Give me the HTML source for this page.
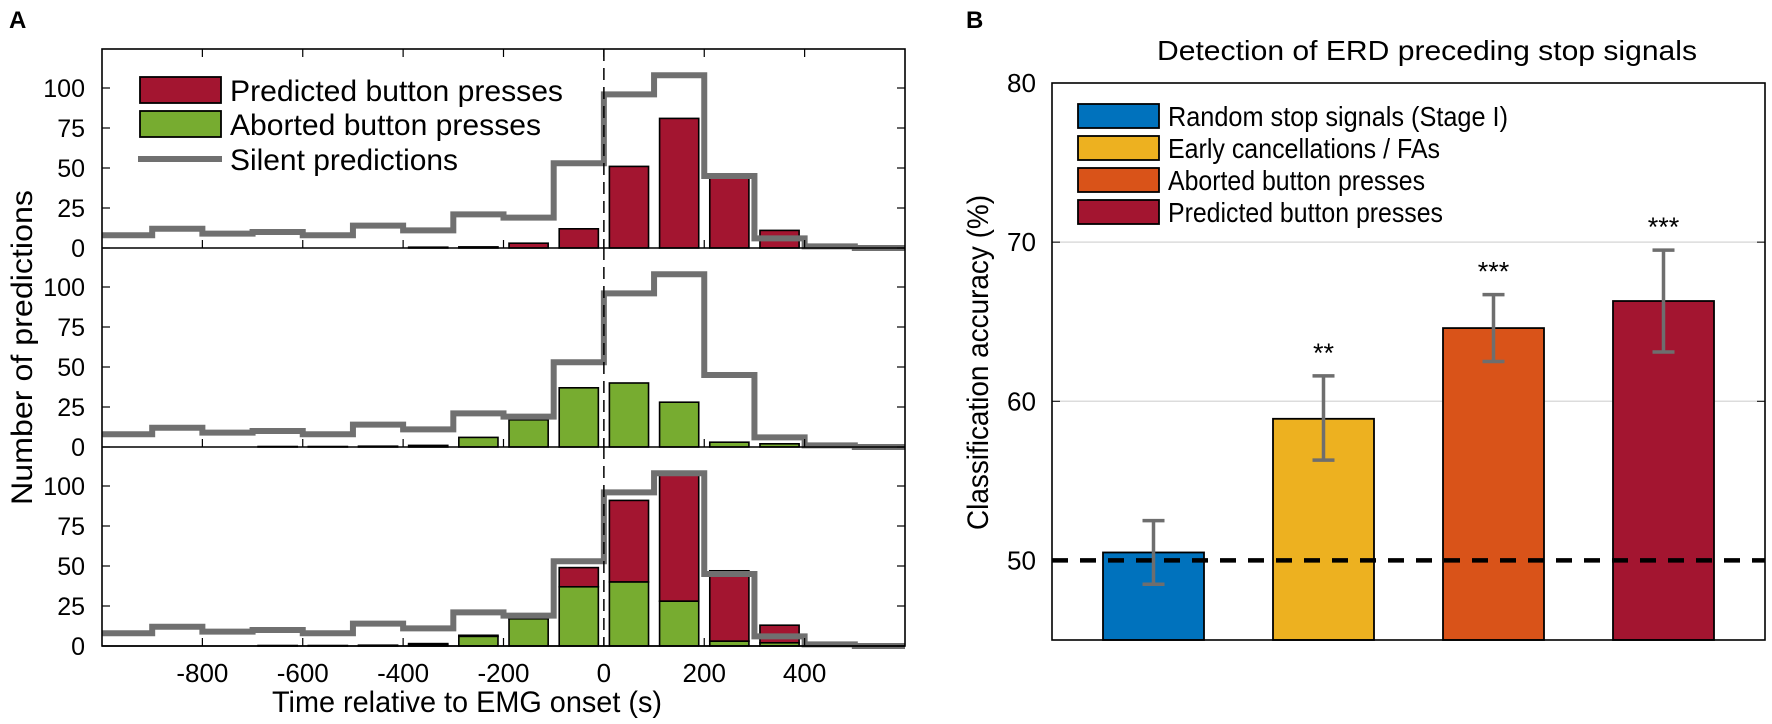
<!DOCTYPE html>
<html><head><meta charset="utf-8">
<style>
html,body{margin:0;padding:0;background:#fff;}
svg{display:block;font-family:"Liberation Sans",Arial,sans-serif;}
</style></head>
<body>
<svg id="fig" width="1772" height="724" viewBox="0 0 1772 724" xmlns="http://www.w3.org/2000/svg">
<text x="9" y="28" font-size="24" font-weight="bold">A</text>
<text x="966" y="28" font-size="24" font-weight="bold">B</text>
<g id="left"></g>
<g id="right"></g>
</svg>
<script>
// ---------- Panel A data ----------
const binStarts = [-1000,-900,-800,-700,-600,-500,-400,-300,-200,-100,0,100,200,300,400,500];
const silentCounts = [8,12,9,10,8,14,11,21,19,53,96,108,45,6,1,0];
const predictedCounts = [0,0,0,0,0,0,0.5,0.7,3,12,51,81,44,11,2,1];
const abortedCounts = [0,0,0,0.3,0.3,0.5,1,6,17,37,40,28,3,2,0,0];
const histTicksX = [-800,-600,-400,-200,0,200,400];
const histTicksY = [0,25,50,75,100];
// ---------- Panel B data ----------
const accCategories = ["Random stop signals (Stage I)","Early cancellations / FAs","Aborted button presses","Predicted button presses"];
const accValues = [50.5,58.9,64.6,66.3];
const accErrLow = [48.5,56.3,62.5,63.1];
const accErrHigh = [52.5,61.6,66.7,69.5];
const accStars = ["","**","***","***"];
const accTicksY = [50,60,70,80];

const NS="http://www.w3.org/2000/svg";
function mk(parent,tag,attrs,text){const e=document.createElementNS(NS,tag);for(const k in attrs)e.setAttribute(k,attrs[k]);if(text!==undefined)e.textContent=text;parent.appendChild(e);return e;}
function cond(attrs,len){attrs.textLength=len;attrs.lengthAdjust='spacingAndGlyphs';return attrs;}

const L=document.getElementById('left');
const X0=102,X1=905,T0=-1000,T1=600;
const xs=t=>X0+(t-T0)*(X1-X0)/(T1-T0);
const RED="#a31530",GREEN="#77ac30",GRAY="#707070";
const panels=[{base:248,top:49,kind:'pred'},{base:447,top:248,kind:'abort'},{base:646,top:447,kind:'both'}];
const unit=1.6;
panels.forEach((p,pi)=>{
  const ys=v=>p.base-v*unit;
  const g=mk(L,'g',{});
  
  
  const bw=100*(X1-X0)/(T1-T0);
  binStarts.forEach((b,i)=>{
    const x=xs(b)+bw*0.11,w=bw*0.78;
    const a=abortedCounts[i],r=predictedCounts[i];
    if(p.kind==='pred'&&r>0){const e=mk(g,'rect',{x:x,y:ys(r),width:w,height:ys(0)-ys(r),fill:RED,stroke:'#000','stroke-width':1.6});
      }
    if(p.kind==='abort'&&a>0){const e=mk(g,'rect',{x:x,y:ys(a),width:w,height:ys(0)-ys(a),fill:GREEN,stroke:'#000','stroke-width':1.6});
      }
    if(p.kind==='both'){
      if(a+r>0){const e=mk(g,'rect',{x:x,y:ys(a+r),width:w,height:ys(a)-ys(a+r),fill:RED,stroke:'#000','stroke-width':1.6});
        }
      if(a>0){const e=mk(g,'rect',{x:x,y:ys(a),width:w,height:ys(0)-ys(a),fill:GREEN,stroke:'#000','stroke-width':1.6});
        }
    }
  });
  let d='';
  binStarts.forEach((b,i)=>{const y=ys(silentCounts[i]);d+=(i===0?'M':'L')+xs(b)+','+y+' L'+xs(b+100)+','+y+' ';});
  const sl=mk(g,'path',{d:d,fill:'none',stroke:GRAY,'stroke-width':6});
  
  mk(g,'line',{x1:xs(0),x2:xs(0),y1:p.top,y2:p.base,stroke:'#000','stroke-width':1.5,'stroke-dasharray':'12,7'});
  mk(g,'line',{x1:X0,x2:X1,y1:p.base,y2:p.base,stroke:'#000','stroke-width':1.6});
  histTicksX.forEach(t=>{mk(g,'line',{x1:xs(t),x2:xs(t),y1:p.base,y2:p.base-8,stroke:'#000','stroke-width':1.2});
    if(pi===0)mk(g,'line',{x1:xs(t),x2:xs(t),y1:p.top,y2:p.top+8,stroke:'#000','stroke-width':1.2});});
  histTicksY.forEach(v=>{
    mk(g,'line',{x1:X0,x2:X0+8,y1:ys(v),y2:ys(v),stroke:'#000','stroke-width':1.2});
    mk(g,'line',{x1:X1,x2:X1-8,y1:ys(v),y2:ys(v),stroke:'#000','stroke-width':1.2});
    const t=mk(g,'text',{x:X0-17,y:ys(v)+9,'font-size':25,'text-anchor':'end'},String(v));
    
  });
});
mk(L,'rect',{x:X0,y:49,width:X1-X0,height:646-49,fill:'none',stroke:'#000','stroke-width':1.6});
histTicksX.forEach(t=>{const e=mk(L,'text',{x:xs(t),y:682,'font-size':26,'text-anchor':'middle'},String(t));
  });
let e=mk(L,'text',cond({x:272,y:712,'font-size':30},390),'Time relative to EMG onset (s)');

e=mk(L,'text',cond({x:-505,y:32,'font-size':30,transform:'rotate(-90)'},315),'Number of predictions');

const lg=mk(L,'g',{});

mk(lg,'rect',{x:140,y:77,width:81,height:26,fill:RED,stroke:'#000','stroke-width':1.8});
mk(lg,'text',cond({x:230,y:101,'font-size':30},333),'Predicted button presses');
mk(lg,'rect',{x:140,y:111,width:81,height:26,fill:GREEN,stroke:'#000','stroke-width':1.8});
mk(lg,'text',cond({x:230,y:135,'font-size':30},311),'Aborted button presses');
mk(lg,'line',{x1:138,x2:222,y1:159,y2:159,stroke:GRAY,'stroke-width':6});
mk(lg,'text',cond({x:230,y:170,'font-size':30},228),'Silent predictions');

// ---------- Panel B ----------
const R=document.getElementById('right');
const RX0=1052,RX1=1765,RY0=640,RY1=83,V0=45,V1=80;
const ry=v=>RY0-(v-V0)*(RY0-RY1)/(V1-V0);
const COLORS=["#0072bd","#edb120","#d95319","#a31530"];
e=mk(R,'text',cond({x:1157,y:60,'font-size':28},540),'Detection of ERD preceding stop signals');

[60,70].forEach(v=>mk(R,'line',{x1:RX0,x2:RX1,y1:ry(v),y2:ry(v),stroke:'#dcdcdc','stroke-width':1.5}));
const bw=101;
const cx=i=>1153.5+i*170;
accValues.forEach((v,i)=>{
  const b=mk(R,'rect',{x:cx(i)-bw/2,y:ry(v),width:bw,height:RY0-ry(v),fill:COLORS[i],stroke:'#000','stroke-width':1.8});
  
});
const dl=mk(R,'line',{x1:RX0,x2:RX1,y1:ry(50),y2:ry(50),stroke:'#000','stroke-width':4.5,'stroke-dasharray':'16,12'});

accValues.forEach((v,i)=>{
  const g=mk(R,'g',{stroke:'#6e6e6e','stroke-width':3.5});
  
  mk(g,'line',{x1:cx(i),x2:cx(i),y1:ry(accErrLow[i]),y2:ry(accErrHigh[i])});
  mk(g,'line',{x1:cx(i)-11,x2:cx(i)+11,y1:ry(accErrLow[i]),y2:ry(accErrLow[i])});
  mk(g,'line',{x1:cx(i)-11,x2:cx(i)+11,y1:ry(accErrHigh[i]),y2:ry(accErrHigh[i])});
  if(accStars[i]){const s=mk(R,'text',{x:cx(i),y:ry(accErrHigh[i])-14,'font-size':27,'text-anchor':'middle'},accStars[i]);
    }
});
mk(R,'rect',{x:RX0,y:RY1,width:RX1-RX0,height:RY0-RY1,fill:'none',stroke:'#000','stroke-width':1.6});
accTicksY.forEach(v=>{
  mk(R,'line',{x1:RX0,x2:RX0+8,y1:ry(v),y2:ry(v),stroke:'#000'});
  mk(R,'line',{x1:RX1,x2:RX1-8,y1:ry(v),y2:ry(v),stroke:'#000'});
  const t=mk(R,'text',cond({x:RX0-16,y:ry(v)+9,'font-size':26,'text-anchor':'end'},29),String(v));
  
});
e=mk(R,'text',cond({x:-530,y:988,'font-size':30,transform:'rotate(-90)'},335),'Classification accuracy (%)');

const lg2=mk(R,'g',{});

const legLens=[340,272,257,275];
accCategories.forEach((c,i)=>{
  const y=104+i*32;
  mk(lg2,'rect',{x:1078,y:y,width:81,height:24,fill:COLORS[i],stroke:'#000','stroke-width':1.8});
  mk(lg2,'text',cond({x:1168,y:y+22,'font-size':28},legLens[i]),c);
});
</script>
</body></html>
